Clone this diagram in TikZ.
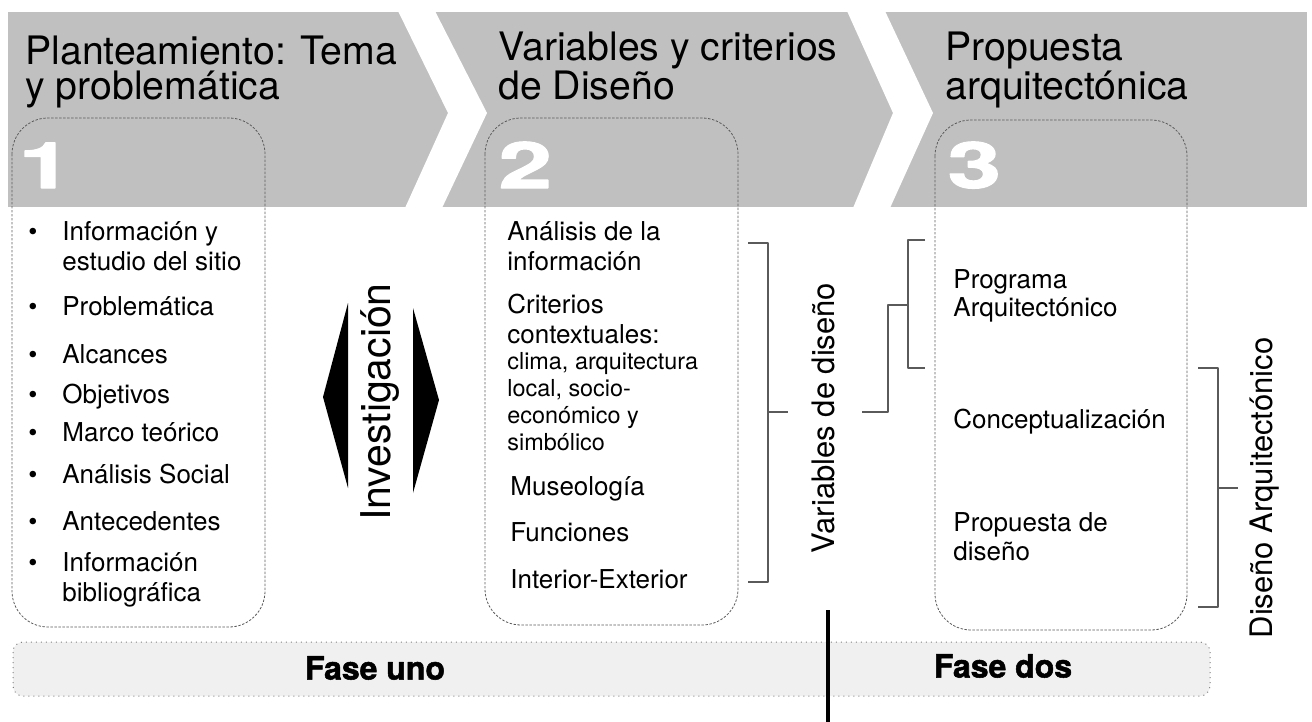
\documentclass[tikz,border=0pt]{standalone}
\usepackage{fontspec}
\setmainfont{TeX Gyre Heros}
\newfontfamily\gruesa[BoldFeatures={FakeBold=1.6}]{TeX Gyre Heros}
\definecolor{banda}{RGB}{192,192,192}
\definecolor{fondofase}{RGB}{240,240,240}
\definecolor{gris}{RGB}{90,90,90}
\tikzset{
	titulo/.style={anchor=base west,align=left,inner sep=0pt,font=\fontsize{19.6}{17.5}\selectfont},
	item/.style={anchor=base west,align=left,inner sep=0pt,font=\fontsize{13}{15}\selectfont},
	punto/.style={anchor=base,inner sep=0pt,font=\fontsize{13}{15}\selectfont},
	numero/.style={anchor=base west,inner sep=0pt,text=white,xscale=1.5,font=\fontsize{32}{32}\selectfont\gruesa\bfseries},
	caja/.style={draw=gris,dash pattern=on 1.2pt off 0.8pt,rounded corners=18pt,line width=0.4pt},
	llave/.style={draw=gris,line width=0.6pt},
	vertical/.style={rotate=90,inner sep=0pt,font=\fontsize{15.5}{15.5}\selectfont},
	fase/.style={draw=gray,fill=fondofase,dotted,rounded corners=5pt,line width=0.5pt},
	faselabel/.style={inner sep=0pt,font=\fontsize{16}{16}\selectfont\gruesa\bfseries}
}
\begin{document}
\begin{tikzpicture}[x=0.5pt,y=-0.5pt,line join=round]
	\useasboundingbox (0,0) rectangle (1312,722);
	\fill[banda] (8,12) rectangle (1307,207);
	\fill[white] (398,11)--(448,113)--(405,208)--(442,208)--(487,113)--(435,11)--cycle;
	\fill[white] (847,11)--(893,113)--(853,208)--(890,208)--(933,113)--(885,11)--cycle;
	\node[titulo] (t1) at (25,100) {Planteamiento: Tema\\y problemática};
	\node[titulo] (t2) at (498,100) {Variables y criterios\\de Diseño};
	\node[titulo] (t3) at (945,100) {Propuesta\\arquitectónica};
	\draw[caja] (12,118) rectangle (265,627);
	\draw[caja] (485,118) rectangle (738,625);
	\draw[caja] (935,120) rectangle (1187,630);
	\node[numero] (n1) at (18,188) {1};
	\node[numero] (n2) at (498,188) {2};
	\node[numero] (n3) at (947,188) {3};
	\foreach \y/\z/\t [count=\i] in {240/270/{Información y\\estudio del sitio},315/315/Problemática,363/363/Alcances,403/403/Objetivos,441/441/Marco teórico,483/483/Análisis Social,530/530/Antecedentes,571/601/{Información\\bibliográfica}}{
		\node[item] (a\i) at (62,\z) {\t};
		\node[punto] (p\i) at (33,\y) {\textbullet};
	}
	\node[item] (b1) at (507,270) {Análisis de la\\información};
	\node[item] (b2) at (507,343) {Criterios\\contextuales:};
	\node[item,font=\fontsize{11.7}{13.5}\selectfont] (b3) at (507,450) {clima, arquitectura\\local, socio-\\económico y\\simbólico};
	\node[item] (b4) at (510,495) {Museología};
	\node[item] (b5) at (510,541) {Funciones};
	\node[item] (b6) at (510,588) {Interior-Exterior};
	\node[item,font=\fontsize{13}{14}\selectfont] (c1) at (953,316) {Programa\\Arquitectónico};
	\node[item] (c2) at (953,428) {Conceptualización};
	\node[item,font=\fontsize{13}{14.5}\selectfont] (c3) at (953,560) {Propuesta de\\diseño};
	\node[vertical,font=\fontsize{20.5}{20.5}\selectfont] (inv) at (380,402) {Investigación};
	\node[vertical] (var) at (823,418) {Variables de diseño};
	\node[vertical] (dis) at (1265,488) {Diseño Arquitectónico};
	\fill (348,303)--(323,397)--(348,488)--cycle;
	\fill (413,308)--(439,400)--(413,493)--cycle;
	\path
	(748,243) coordinate(V1)
	(768,243) coordinate(V2)
	(768,582) coordinate(V3)
	(748,582) coordinate(V4)
	(768,412) coordinate(V5)
	(788,412) coordinate(V6)
	(862,412) coordinate(C1)
	(888,412) coordinate(C2)
	(888,305) coordinate(C3)
	(908,305) coordinate(C4)
	(925,240) coordinate(P1)
	(908,240) coordinate(P2)
	(908,368) coordinate(P3)
	(925,368) coordinate(P4)
	(1198,368) coordinate(D1)
	(1218,368) coordinate(D2)
	(1218,607) coordinate(D3)
	(1198,607) coordinate(D4)
	(1218,488) coordinate(D5)
	(1238,488) coordinate(D6)
	;
	\draw[llave] (V1)--(V2)--(V3)--(V4) (V5)--(V6);
	\draw[llave] (C1)--(C2)--(C3)--(C4);
	\draw[llave] (P1)--(P2)--(P3)--(P4);
	\draw[llave] (D1)--(D2)--(D3)--(D4) (D5)--(D6);
	\draw[fase] (13,642) rectangle (1210,696);
	\node[faselabel] (f1) at (375,668) {Fase uno};
	\node[faselabel] (f2) at (1003,666) {Fase dos};
	\path (828,610) coordinate(L1) (828,722) coordinate(L2);
	\draw[line width=2.3pt] (L1)--(L2);
\end{tikzpicture}
\end{document}
